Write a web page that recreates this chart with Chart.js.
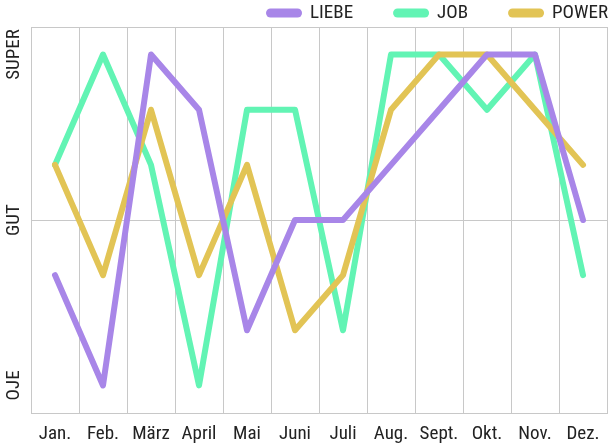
<!DOCTYPE html>
<html>
<head>
<meta charset="utf-8">
<script src="https://cdn.jsdelivr.net/npm/chart.js@4.4.1/dist/chart.umd.min.js"></script>
<style>
  html, body { margin: 0; padding: 0; background: #fff; }
  #wrap { width: 616px; height: 444px; }
</style>
</head>
<body>
<div id="wrap"><canvas id="myChart"></canvas></div>
<script>
// daten
const months = ['Jan.', 'Feb.', 'März', 'April', 'Mai', 'Juni', 'Juli', 'Aug.', 'Sept.', 'Okt.', 'Nov.', 'Dez.'];
const liebe = [-1, -3, 3, 2, -2, 0, 0, 1, 2, 3, 3, 0];
const job = [1, 3, 1, -3, 2, 2, -2, 3, 3, 2, 3, -1];
const power = [1, -1, 2, -1, 1, -2, -1, 2, 3, 3, 2, 1];
const levelValues = [-3, 0, 3];
const levelLabels = ['OJE', 'GUT', 'SUPER'];

const FONT = '"Roboto Condensed", "DejaVu Sans Condensed", Roboto, sans-serif';
const TEXT = '#222';
const GRID = '#c8c8c8';

// y achse beschriftung, gedreht
const yLabelPlugin = {
    id: 'yLabels',
    afterDraw(chart) {
        const ctx = chart.ctx;
        const y = chart.scales.y;
        ctx.save();
        ctx.font = '19px ' + FONT;
        ctx.fillStyle = TEXT;
        ctx.textAlign = 'center';
        ctx.textBaseline = 'middle';
        levelValues.forEach((v, i) => {
            ctx.save();
            ctx.translate(14, y.getPixelForValue(v));
            ctx.rotate(-Math.PI / 2);
            ctx.fillText(levelLabels[i], 0, 0);
            ctx.restore();
        });
        ctx.restore();
    }
};

// legende oben rechts
const legendPlugin = {
    id: 'topLegend',
    afterDraw(chart) {
        const ctx = chart.ctx;
        const sets = chart.data.datasets;
        ctx.save();
        ctx.font = '19px ' + FONT;
        ctx.textBaseline = 'middle';
        ctx.textAlign = 'left';
        const boxW = 36, boxH = 9, gap = 8, space = 40, cy = 13;
        let x = chart.chartArea.right + 1;
        for (let i = sets.length - 1; i >= 0; i--) {
            const w = ctx.measureText(sets[i].label).width;
            x -= w;
            ctx.fillStyle = TEXT;
            ctx.fillText(sets[i].label, x, cy);
            x -= gap + boxW;
            ctx.fillStyle = sets[i].borderColor;
            ctx.beginPath();
            ctx.roundRect(x, cy - boxH / 2, boxW, boxH, boxH / 2);
            ctx.fill();
            x -= space;
        }
        ctx.restore();
    }
};

function makeSet(label, data, color, order) {
    return {
        label: label,
        data: data,
        borderColor: color,
        backgroundColor: color,
        borderWidth: 6,
        borderCapStyle: 'round',
        borderJoinStyle: 'round',
        pointRadius: 0,
        tension: 0,
        order: order
    };
}

new Chart(document.getElementById('myChart'), {
    type: 'line',
    data: {
        labels: months,
        datasets: [
            makeSet('LIEBE', liebe, '#a886e8', 0),
            makeSet('JOB', job, '#62f4b4', 2),
            makeSet('POWER', power, '#e2c455', 1)
        ]
    },
    options: {
        responsive: true,
        maintainAspectRatio: false,
        animation: false,
        layout: { padding: { top: 27, left: 0, right: 0, bottom: 0 } },
        plugins: {
            legend: { display: false },
            tooltip: { enabled: false }
        },
        scales: {
            x: {
                offset: true,
                grid: { color: GRID, lineWidth: 1, offset: true, drawTicks: false },
                border: { display: true, color: GRID },
                ticks: { color: TEXT, font: { family: FONT, size: 19 }, padding: 10, maxRotation: 0, autoSkip: false },
                afterFit(s) { s.height = 31; }
            },
            y: {
                min: -3.5,
                max: 3.5,
                afterBuildTicks(s) { s.ticks = [-3.5, 0, 3.5].map(v => ({ value: v })); },
                grid: { color: GRID, lineWidth: 1, drawTicks: false },
                border: { display: true, color: GRID },
                ticks: { display: false },
                afterFit(s) { s.width = 31; }
            },
            yR: {
                position: 'right',
                grid: { display: false },
                border: { display: false },
                ticks: { display: false },
                afterFit(s) { s.width = 9; }
            }
        }
    },
    plugins: [yLabelPlugin, legendPlugin]
});
</script>
</body>
</html>
